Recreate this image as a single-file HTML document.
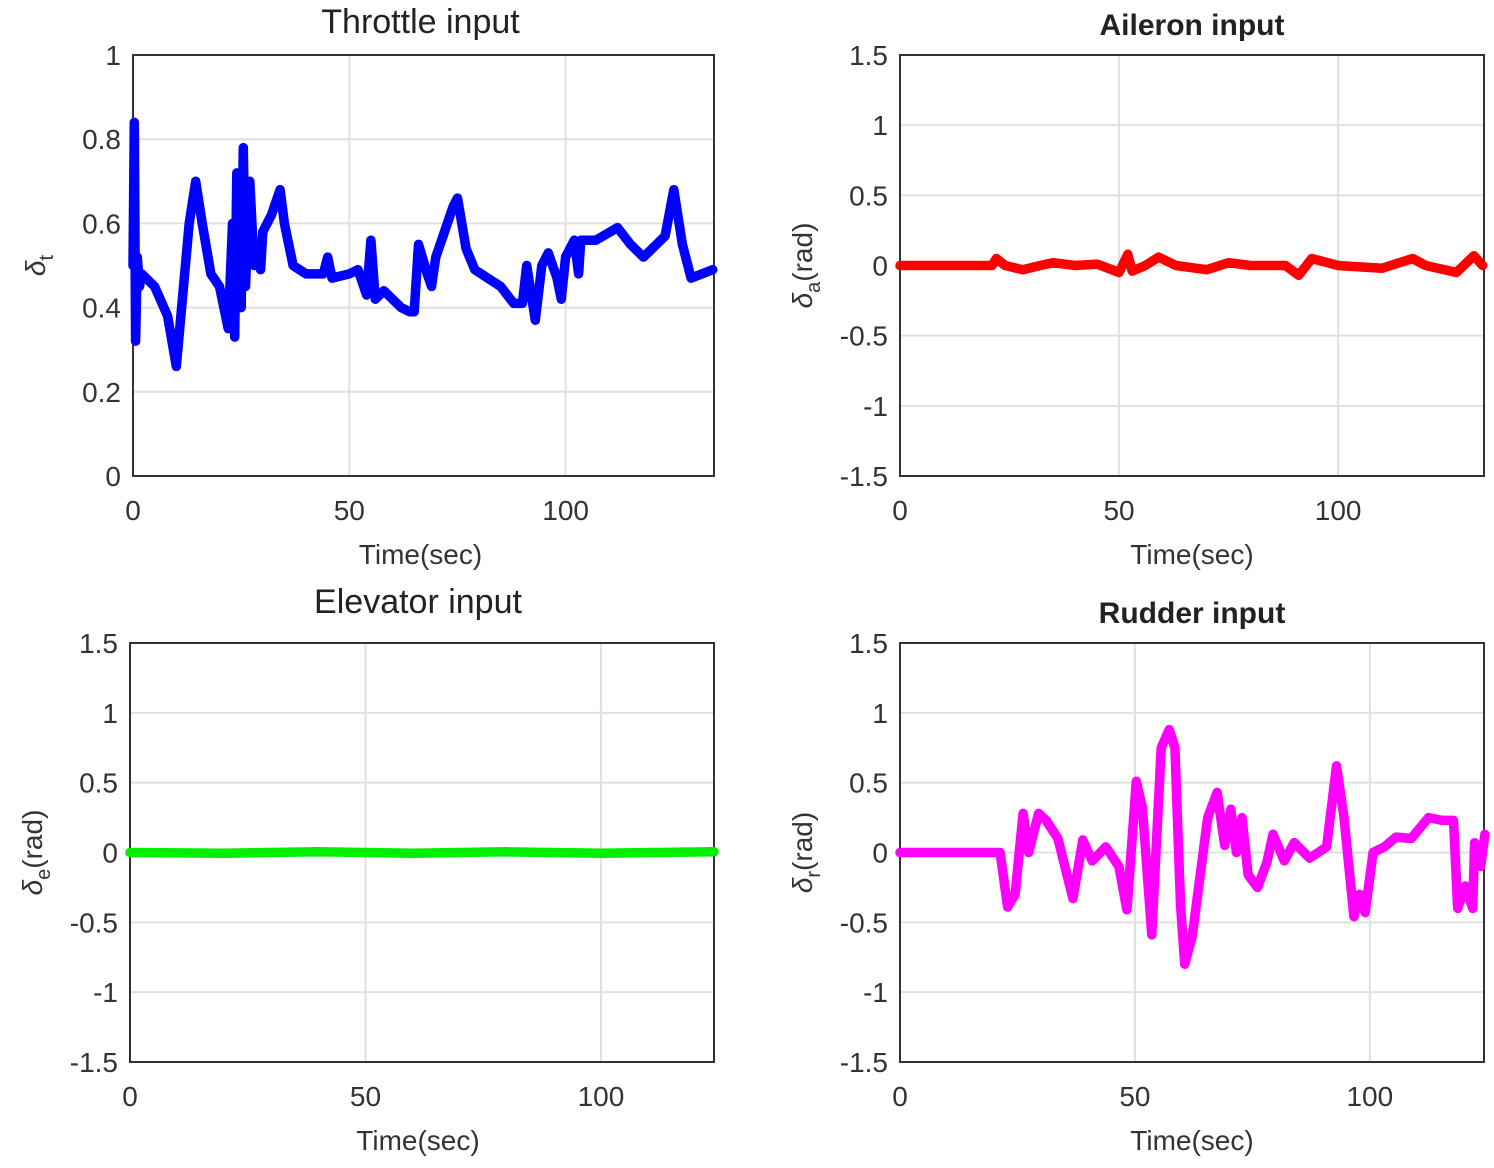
<!DOCTYPE html>
<html><head><meta charset="utf-8"><style>
html,body{margin:0;padding:0;background:#fff;}
svg text{font-family:"Liberation Sans",sans-serif;fill:#222;}
</style></head><body>
<svg id="c" width="1494" height="1163" viewBox="0 0 1494 1163" xmlns="http://www.w3.org/2000/svg"></svg>
<script>
const throttleT=[0,0.3,0.6,1,1.5,2,5,8,10,13,14.5,16,18,20,22,23,23.5,24,25,25.5,26,27,28,29,29.5,30,32,34,35,37,40,44,45,46,50,52,54,55,56,58,62,64,65,66,68,69,70,72,74,75,77,79,82,85,88,90,91,93,94.5,96,98,99,100,102,103,103.5,107,112,115,118,121,123,125,127,129,134];
const throttleV=[0.5,0.84,0.32,0.52,0.45,0.48,0.45,0.38,0.26,0.6,0.7,0.6,0.48,0.45,0.35,0.6,0.33,0.72,0.4,0.78,0.45,0.7,0.5,0.55,0.49,0.58,0.62,0.68,0.6,0.5,0.48,0.48,0.52,0.47,0.48,0.49,0.43,0.56,0.42,0.44,0.4,0.39,0.39,0.55,0.48,0.45,0.52,0.58,0.64,0.66,0.54,0.49,0.47,0.45,0.41,0.41,0.5,0.37,0.5,0.53,0.47,0.42,0.52,0.56,0.48,0.56,0.56,0.59,0.55,0.52,0.55,0.57,0.68,0.55,0.47,0.49];
const aileronT=[0,21,22,24,28,32,35,40,45,50,52,53,56,59,63,70,75,80,88,91,94,100,110,117,120,127,131,133];
const aileronV=[0,0,0.05,0,-0.03,0,0.02,0,0.01,-0.05,0.08,-0.04,0,0.06,0,-0.03,0.02,0,0,-0.07,0.05,0,-0.02,0.05,0,-0.05,0.07,0];
const elevatorT=[0,20,40,60,80,100,124];
const elevatorV=[0,-0.005,0.005,-0.005,0.005,-0.005,0.005];
const rudderT=[0,21.3,22.9,24.5,26.2,27.4,29.5,31.1,33.6,36.8,38.9,40.9,43.8,46.6,48.3,50.3,51.6,53.6,55.6,57.3,58.5,59.7,60.6,62.2,65.5,67.5,69.1,70.4,71.6,72.8,74.1,76.1,78.1,79.4,81.8,83.9,87.2,90.8,92.9,94.5,96.6,97.8,99,100.7,103.1,105.6,108.8,112.5,115.4,117.8,118.7,120.3,121.9,122.3,123.6,124.5];
const rudderV=[0,0,-0.39,-0.3,0.28,0,0.28,0.23,0.1,-0.33,0.09,-0.06,0.04,-0.1,-0.41,0.51,0.32,-0.59,0.75,0.88,0.75,-0.37,-0.8,-0.6,0.25,0.43,0.05,0.31,0,0.25,-0.16,-0.25,-0.07,0.13,-0.06,0.07,-0.04,0.04,0.62,0.25,-0.46,-0.3,-0.43,0,0.04,0.11,0.1,0.25,0.23,0.23,-0.4,-0.24,-0.4,0.07,-0.1,0.13];
const ticks1=[0,0.2,0.4,0.6,0.8,1];
const ticksR=[-1.5,-1,-0.5,0,0.5,1,1.5];
const xt=[0,50,100];
const NS="http://www.w3.org/2000/svg";
const svg=document.getElementById('c');
function mk(tag,at,parent){const e=document.createElementNS(NS,tag);for(const k in at)e.setAttribute(k,at[k]);(parent||svg).appendChild(e);return e;}
function panel(o){
  const g=mk('g',{});
  
  
  const sx=t=>o.x0+(t-0)/(o.xmax)*(o.x1-o.x0);
  const sy=v=>o.y1-(v-o.ymin)/(o.ymax-o.ymin)*(o.y1-o.y0);
  o.xt.forEach(t=>{const l=mk('line',{x1:sx(t),x2:sx(t),y1:o.y0,y2:o.y1,stroke:'#e0e0e0','stroke-width':2},g);
    const tx=mk('text',{x:sx(t),y:o.y1+44,'font-size':28,'text-anchor':'middle',style:'fill:#333'},g);tx.textContent=t;});
  o.yt.forEach(v=>{const l=mk('line',{x1:o.x0,x2:o.x1,y1:sy(v),y2:sy(v),stroke:'#e0e0e0','stroke-width':2},g);
    const tx=mk('text',{x:o.x0-12,y:sy(v)+10,'font-size':28,'text-anchor':'end',style:'fill:#333'},g);tx.textContent=v;});
  const r=mk('rect',{x:o.x0,y:o.y0,width:o.x1-o.x0,height:o.y1-o.y0,fill:'none',stroke:'#333','stroke-width':2},g);
  
  const pts=o.t.map((t,i)=>sx(t).toFixed(1)+','+sy(o.v[i]).toFixed(1)).join(' ');
  const pl=mk('polyline',{points:pts,fill:'none',stroke:o.color,'stroke-width':9.5,'stroke-linejoin':'round','stroke-linecap':'round'},g);
  
  const ti=mk('text',{x:(o.x0+o.x1)/2+(o.tshift||0),y:o.y0-o.tdy,'font-size':o.tfs,'font-weight':o.tbold?'bold':'normal','text-anchor':'middle',fill:'#111'},g);
  ti.textContent=o.title;
  const xl=mk('text',{x:(o.x0+o.x1)/2+(o.tshift||0),y:o.y1+88,'font-size':28,'text-anchor':'middle',style:'fill:#333'},g);
  xl.textContent='Time(sec)';
  const yl=mk('text',{transform:`translate(${o.x0-88},${(o.y0+o.y1)/2}) rotate(-90)`,'font-size':28,'text-anchor':'middle',style:'fill:#333'},g);
  yl.innerHTML=o.ylab;
}
panel({name:'throttle-chart',x0:133,x1:714,y0:55,y1:476,xmax:134.3,ymin:0,ymax:1,xt:xt,yt:ticks1,t:throttleT,v:throttleV,color:'#0000ff',title:'Throttle input',tfs:34,tbold:false,tdy:22,tshift:-3,ylab:'<tspan font-style="italic">δ</tspan><tspan font-size="20" dy="8">t</tspan>'});
panel({name:'aileron-chart',x0:900,x1:1484,y0:55,y1:476,xmax:133.3,ymin:-1.5,ymax:1.5,xt:xt,yt:ticksR,t:aileronT,v:aileronV,color:'#ff0000',title:'Aileron input',tfs:30,tbold:true,tdy:20,tshift:0,ylab:'<tspan font-style="italic">δ</tspan><tspan font-size="20" dy="8">a</tspan><tspan dy="-8">(rad)</tspan>'});
panel({name:'elevator-chart',x0:130,x1:714,y0:643,y1:1062,xmax:124,ymin:-1.5,ymax:1.5,xt:xt,yt:ticksR,t:elevatorT,v:elevatorV,color:'#00ee00',title:'Elevator input',tfs:34,tbold:false,tdy:30,tshift:-4,ylab:'<tspan font-style="italic">δ</tspan><tspan font-size="20" dy="8">e</tspan><tspan dy="-8">(rad)</tspan>'});
panel({name:'rudder-chart',x0:900,x1:1484,y0:643,y1:1062,xmax:124.3,ymin:-1.5,ymax:1.5,xt:xt,yt:ticksR,t:rudderT,v:rudderV,color:'#ff00ff',title:'Rudder input',tfs:30,tbold:true,tdy:20,tshift:0,ylab:'<tspan font-style="italic">δ</tspan><tspan font-size="20" dy="8">r</tspan><tspan dy="-8">(rad)</tspan>'});
</script>
</body></html>
